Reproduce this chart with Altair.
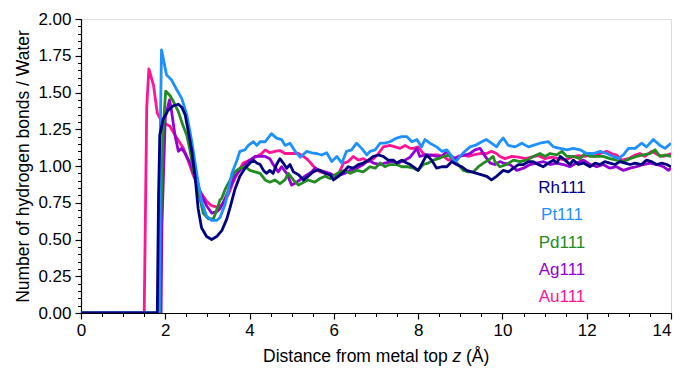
import altair as alt
import pandas as pd

# ---------------- data ----------------
series_names = ["Au111", "Ag111", "Pd111", "Pt111", "Rh111"]
series_colors = ["#ff1493", "#9400d3", "#228b22", "#1e90ff", "#000080"]

au_x = [0, 1.50, 1.56, 1.61, 1.72, 1.81, 1.90, 1.99, 2.11, 2.25, 2.43, 2.55, 2.66, 2.82, 2.98, 3.10, 3.22,
        3.30, 3.38, 3.50, 3.61, 3.73, 3.85, 4.01, 4.17, 4.29, 4.37, 4.48, 4.60, 4.72, 4.84, 5.00, 5.16, 5.28,
        5.39, 5.51, 5.67, 5.83, 5.95, 6.07, 6.15, 6.23, 6.34, 6.46, 6.58, 6.70, 6.82, 6.94, 7.06, 7.17, 7.33,
        7.45, 7.57, 7.69, 7.81, 7.89, 8.00, 8.12, 8.24, 8.36, 8.48, 8.60, 8.72, 8.84, 8.95, 9.07, 9.19, 9.31,
        9.47, 9.63, 9.74, 9.86, 9.94, 10.06, 10.22, 10.38, 10.54, 10.69, 10.85, 11.01, 11.17, 11.33, 11.49,
        11.64, 11.80, 11.96, 12.08, 12.16, 12.32, 12.47, 12.59, 12.71, 12.83, 12.99, 13.15, 13.26, 13.38, 13.54,
        13.70, 13.82, 14.00]
au_y = [0, 0, 1.40, 1.66, 1.55, 1.36, 1.31, 1.29, 1.27, 1.20, 1.12, 1.03, 0.94, 0.83, 0.76, 0.73, 0.72,
        0.73, 0.74, 0.81, 0.89, 0.96, 1.02, 1.04, 1.065, 1.085, 1.11, 1.09, 1.10, 1.105, 1.085, 1.085, 1.085, 1.065,
        1.04, 1.00, 0.96, 0.95, 0.94, 0.93, 0.97, 1.02, 1.03, 1.065, 1.04, 1.05, 1.03, 1.05, 1.085, 1.13, 1.14,
        1.13, 1.12, 1.14, 1.12, 1.12, 1.13, 1.085, 1.065, 1.075, 1.075, 1.065, 1.04, 1.05, 1.065, 1.075, 1.065, 1.075,
        1.085, 1.085, 1.10, 1.085, 1.065, 1.05, 1.065, 1.06, 1.05, 1.06, 1.07, 1.05, 1.06, 1.05, 1.04,
        1.06, 1.07, 1.065, 1.075, 1.065, 1.085, 1.10, 1.085, 1.075, 1.04, 1.05, 1.075, 1.085, 1.065, 1.10,
        1.075, 1.065, 1.085]

ag_x = [0, 1.90, 1.92, 2.00, 2.10, 2.15, 2.23, 2.31, 2.39, 2.47, 2.59, 2.71, 2.86, 2.98, 3.10, 3.22, 3.30,
        3.42, 3.54, 3.65, 3.77, 3.89, 4.01, 4.13, 4.25, 4.37, 4.48, 4.56, 4.68, 4.76, 4.88, 5.00, 5.12, 5.24,
        5.36, 5.47, 5.55, 5.67, 5.79, 5.91, 6.03, 6.15, 6.26, 6.38, 6.54, 6.70, 6.82, 6.94, 7.10, 7.21, 7.37,
        7.53, 7.69, 7.81, 7.97, 8.04, 8.16, 8.32, 8.44, 8.56, 8.68, 8.76, 8.87, 8.99, 9.11, 9.23, 9.35, 9.47,
        9.59, 9.71, 9.82, 9.94, 10.02, 10.18, 10.34, 10.50, 10.65, 10.81, 10.97, 11.13, 11.29, 11.45, 11.60,
        11.76, 11.92, 12.08, 12.24, 12.39, 12.55, 12.71, 12.87, 13.03, 13.18, 13.34, 13.50, 13.66, 13.82,
        13.94, 14.00]
ag_y = [0, 0, 0.60, 1.33, 1.45, 1.37, 1.21, 1.10, 1.12, 1.085, 1.02, 0.92, 0.80, 0.73, 0.68, 0.69, 0.71,
        0.78, 0.86, 0.93, 0.97, 1.01, 1.04, 1.065, 1.065, 1.065, 1.05, 1.01, 0.96, 0.995, 0.95, 0.87, 0.89, 0.915,
        0.94, 0.96, 0.985, 0.97, 0.96, 0.95, 0.93, 0.94, 0.95, 0.97, 0.985, 1.01, 1.04, 1.02, 1.01, 1.02, 1.03,
        1.02, 1.04, 1.06, 1.12, 1.065, 1.075, 1.075, 1.065, 1.065, 1.10, 1.075, 1.05, 1.065, 1.075, 1.085, 1.11, 1.12,
        1.065, 1.02, 1.01, 1.03, 1.02, 1.01, 0.97, 0.985, 1.01, 1.02, 1.03, 1.01, 1.02, 1.01, 0.995,
        1.02, 1.04, 1.01, 0.995, 1.01, 0.985, 0.995, 0.97, 0.985, 0.995, 1.01, 1.02, 1.01, 0.995,
        0.97, 0.985]

pd_x = [0, 1.87, 1.89, 1.95, 2.01, 2.11, 2.19, 2.31, 2.39, 2.51, 2.59, 2.66, 2.78, 2.90, 3.02, 3.14, 3.22,
        3.30, 3.34, 3.42, 3.54, 3.65, 3.77, 3.89, 4.01, 4.13, 4.25, 4.37, 4.48, 4.60, 4.72, 4.84, 4.92, 5.04,
        5.16, 5.28, 5.39, 5.55, 5.67, 5.79, 5.91, 6.03, 6.15, 6.26, 6.38, 6.54, 6.70, 6.86, 6.98, 7.10, 7.21,
        7.33, 7.49, 7.61, 7.73, 7.89, 8.00, 8.12, 8.24, 8.36, 8.48, 8.60, 8.72, 8.84, 8.95, 9.07, 9.19, 9.31,
        9.43, 9.55, 9.67, 9.78, 9.82, 9.94, 10.10, 10.26, 10.42, 10.58, 10.73, 10.89, 11.01, 11.13, 11.29,
        11.41, 11.53, 11.68, 11.84, 11.96, 12.08, 12.24, 12.39, 12.55, 12.71, 12.87, 13.03, 13.18, 13.34,
        13.50, 13.62, 13.74, 13.86, 14.00]
pd_y = [0, 0, 0.60, 1.25, 1.51, 1.48, 1.44, 1.37, 1.30, 1.21, 1.10, 0.98, 0.83, 0.68, 0.64, 0.64, 0.70,
        0.77, 0.78, 0.84, 0.905, 0.96, 0.985, 0.995, 0.97, 0.96, 0.95, 0.905, 0.89, 0.905, 0.88, 0.905, 0.95, 0.905,
        0.87, 0.89, 0.905, 0.89, 0.915, 0.93, 0.915, 0.94, 0.96, 0.97, 0.95, 0.97, 0.96, 0.995, 0.985, 1.02, 0.995,
        1.01, 1.01, 0.995, 0.995, 0.985, 0.97, 1.01, 1.02, 1.04, 1.05, 1.065, 1.075, 1.04, 1.01, 0.97, 0.96, 0.96,
        0.995, 1.02, 1.04, 1.065, 1.03, 0.995, 1.01, 1.04, 1.03, 1.04, 1.065, 1.085, 1.065, 1.085, 1.075,
        1.10, 1.065, 1.065, 1.05, 1.085, 1.065, 1.065, 1.065, 1.05, 1.04, 1.03, 1.05, 1.065, 1.075,
        1.085, 1.11, 1.065, 1.075, 1.065]

pt_x = [0, 1.86, 1.88, 1.91, 2.03, 2.15, 2.27, 2.39, 2.51, 2.63, 2.75, 2.86, 2.98, 3.10, 3.22, 3.30, 3.42,
        3.50, 3.58, 3.69, 3.77, 3.89, 3.97, 4.09, 4.17, 4.25, 4.37, 4.52, 4.64, 4.76, 4.84, 4.96, 5.08, 5.20,
        5.36, 5.47, 5.59, 5.71, 5.83, 5.95, 6.07, 6.19, 6.30, 6.42, 6.54, 6.66, 6.78, 6.86, 6.98, 7.10, 7.21,
        7.33, 7.49, 7.61, 7.73, 7.85, 7.97, 8.08, 8.16, 8.28, 8.44, 8.56, 8.68, 8.80, 8.87, 8.99, 9.11, 9.23,
        9.35, 9.51, 9.62, 9.74, 9.86, 9.94, 10.02, 10.14, 10.30, 10.46, 10.62, 10.73, 10.89, 11.09, 11.21,
        11.37, 11.53, 11.68, 11.84, 12.00, 12.16, 12.32, 12.47, 12.63, 12.75, 12.87, 12.99, 13.15, 13.30,
        13.42, 13.58, 13.74, 13.86, 14.00]
pt_y = [0, 0, 1.20, 1.79, 1.62, 1.585, 1.52, 1.46, 1.35, 1.165, 0.94, 0.76, 0.66, 0.63, 0.63, 0.65, 0.74,
        0.84, 0.95, 1.03, 1.10, 1.11, 1.14, 1.165, 1.14, 1.165, 1.165, 1.22, 1.19, 1.18, 1.14, 1.155, 1.10, 1.06,
        1.10, 1.09, 1.085, 1.075, 1.09, 1.03, 1.065, 1.02, 1.10, 1.11, 1.155, 1.12, 1.075, 1.10, 1.11, 1.155, 1.155,
        1.165, 1.19, 1.20, 1.20, 1.165, 1.18, 1.13, 1.18, 1.155, 1.13, 1.10, 1.11, 1.065, 1.02, 1.065, 1.10, 1.13,
        1.14, 1.165, 1.18, 1.155, 1.13, 1.165, 1.19, 1.14, 1.13, 1.155, 1.13, 1.14, 1.155, 1.165, 1.13,
        1.12, 1.11, 1.12, 1.11, 1.085, 1.085, 1.10, 1.085, 1.065, 1.05, 1.075, 1.12, 1.12, 1.155,
        1.13, 1.18, 1.14, 1.12, 1.155]

rh_x = [0, 1.81, 1.84, 1.87, 1.95, 2.07, 2.19, 2.31, 2.39, 2.47, 2.55, 2.63, 2.71, 2.78, 2.86, 2.98, 3.10,
        3.22, 3.34, 3.46, 3.54, 3.65, 3.77, 3.89, 4.01, 4.09, 4.17, 4.25, 4.33, 4.40, 4.48, 4.56, 4.64, 4.72,
        4.80, 4.88, 4.96, 5.04, 5.16, 5.28, 5.39, 5.51, 5.63, 5.79, 5.91, 5.99, 6.11, 6.23, 6.34, 6.46, 6.58,
        6.70, 6.82, 6.94, 7.06, 7.17, 7.29, 7.41, 7.49, 7.61, 7.73, 7.81, 7.93, 8.00, 8.08, 8.20, 8.32, 8.44,
        8.56, 8.68, 8.80, 8.91, 9.03, 9.15, 9.27, 9.39, 9.51, 9.63, 9.74, 9.86, 9.94, 10.02, 10.14, 10.26,
        10.38, 10.50, 10.62, 10.73, 10.85, 10.97, 11.09, 11.21, 11.29, 11.37, 11.49, 11.60, 11.68, 11.80,
        11.92, 12.08, 12.20, 12.32, 12.43, 12.55, 12.67, 12.79, 12.91, 13.03, 13.15, 13.30, 13.42, 13.54,
        13.66, 13.78, 13.90, 14.00]
rh_y = [0, 0, 0.80, 1.21, 1.32, 1.38, 1.41, 1.42, 1.40, 1.35, 1.23, 1.10, 0.92, 0.71, 0.58, 0.52, 0.50,
        0.52, 0.56, 0.64, 0.72, 0.84, 0.93, 0.985, 1.02, 1.04, 1.02, 1.01, 0.97, 0.95, 0.97, 0.95, 1.01, 1.05,
        1.02, 0.985, 1.01, 0.96, 0.94, 0.905, 0.93, 0.96, 0.975, 0.95, 0.94, 0.905, 0.93, 0.96, 0.995, 0.985, 1.01,
        1.02, 1.04, 1.065, 1.075, 1.065, 1.04, 1.04, 1.02, 1.04, 1.02, 1.01, 0.985, 0.97, 1.01, 1.075, 1.04, 0.985,
        0.995, 0.995, 1.03, 1.01, 0.995, 0.97, 0.96, 0.95, 0.94, 0.93, 0.905, 0.93, 0.95, 0.97, 0.96, 0.985,
        1.01, 1.01, 1.03, 1.03, 1.01, 0.995, 1.02, 1.04, 1.02, 1.065, 1.04, 1.01, 1.04, 1.01,
        1.02, 0.995, 1.02, 1.01, 1.03, 1.02, 1.01, 1.03, 1.02, 1.01, 1.02, 1.01, 1.04, 1.03,
        1.01, 1.02, 1.01, 0.995]

legend_labels = ["Rh111", "Pt111", "Pd111", "Ag111", "Au111"]
legend_colors = ["#000080", "#1e90ff", "#228b22", "#9400d3", "#ff1493"]

x_major = [0, 2, 4, 6, 8, 10, 12, 14]
x_minor = [v / 2 for v in range(0, 29)]
y_major = [0, 0.25, 0.5, 0.75, 1.0, 1.25, 1.5, 1.75, 2.0]
y_minor = [v / 20 for v in range(0, 41)]

# ---------------- chart ----------------
FONT = "Liberation Sans"
W, H = 590, 294

series_data = {
    "Au111": (au_x, au_y),
    "Ag111": (ag_x, ag_y),
    "Pd111": (pd_x, pd_y),
    "Pt111": (pt_x, pt_y),
    "Rh111": (rh_x, rh_y),
}

xscale = alt.Scale(domain=[0, 14], nice=False, zero=False)
yscale = alt.Scale(domain=[0, 2], nice=False, zero=False)

layers = []
first = True
for name, color in zip(series_names, series_colors):
    xs, ys = series_data[name]
    df = pd.DataFrame({"x": xs, "y": ys, "i": list(range(len(xs)))})
    if first:
        xax = alt.Axis(values=x_major, format="d", tickSize=6, tickWidth=1.2, tickColor="black",
                       domainColor="black", domainWidth=1.2, labelFontSize=17, labelFont=FONT,
                       labelColor="black", labelPadding=3, labelFlush=False, labelOverlap=False,
                       labelAlign={"expr": "datum.value == 14 ? 'right' : 'center'"},
                       grid=False, title=None, orient="bottom")
        yax = alt.Axis(values=y_major, format=".2f", tickSize=6, tickWidth=1.2, tickColor="black",
                       domainColor="black", domainWidth=1.2, labelFontSize=17, labelFont=FONT,
                       labelColor="black", labelPadding=4, labelFlush=False, labelOverlap=False,
                       grid=False,
                       title="Number of hydrogen bonds / Water", titleFontSize=17.5, titleFont=FONT,
                       titleFontWeight="normal", titleColor="black", titlePadding=5, orient="left")
        first = False
    else:
        xax = None
        yax = None
    enc_x = alt.X("x:Q", scale=xscale, axis=xax)
    enc_y = alt.Y("y:Q", scale=yscale, axis=yax)
    layers.append(
        alt.Chart(df).mark_line(color=color, strokeWidth=2.8, clip=True, strokeJoin="round")
        .encode(x=enc_x, y=enc_y, order="i:Q")
    )

# minor tick axes
minor_df = pd.DataFrame({"x": [0, 14], "y": [0, 2]})
minor = alt.Chart(minor_df).mark_point(opacity=0).encode(
    x=alt.X("x:Q", scale=xscale,
            axis=alt.Axis(values=x_minor, labels=False, tickSize=3.5, tickWidth=1, tickColor="black",
                          domain=False, grid=False, title=None, orient="bottom")),
    y=alt.Y("y:Q", scale=yscale,
            axis=alt.Axis(values=y_minor, labels=False, tickSize=3.5, tickWidth=1, tickColor="black",
                          domain=False, grid=False, title=None, orient="left")),
)

one = pd.DataFrame({"a": [0]})

# colour-coded labels
label_layers = []
for k, (lab, col) in enumerate(zip(legend_labels, legend_colors)):
    label_layers.append(
        alt.Chart(one).mark_text(font=FONT, fontSize=17, color=col, align="center", baseline="middle")
        .encode(x=alt.value(481), y=alt.value(169 + 27.3 * k), text=alt.value(lab))
    )

# x-axis title with italic z
title_y = 338
xt1 = alt.Chart(one).mark_text(font=FONT, fontSize=17.5, color="black", align="left", baseline="middle").encode(
    x=alt.value(182), y=alt.value(title_y), text=alt.value("Distance from metal top"))
xt2 = alt.Chart(one).mark_text(font=FONT, fontSize=17.5, fontStyle="italic", color="black", align="left",
                               baseline="middle").encode(
    x=alt.value(371.5), y=alt.value(title_y), text=alt.value("z"))
xt3 = alt.Chart(one).mark_text(font=FONT, fontSize=17.5, color="black", align="left", baseline="middle").encode(
    x=alt.value(385), y=alt.value(title_y), text=alt.value("(Å)"))

chart = alt.layer(*layers, minor, *label_layers, xt1, xt2, xt3).resolve_axis(
    x="independent", y="independent"
).properties(
    width=W, height=H,
    autosize=alt.AutoSizeParams(type="none"),
    padding={"left": 73, "top": 11, "right": 2, "bottom": 56},
).configure_view(stroke="black", strokeWidth=1.4).configure(background="white")

chart.save("out.html", embed_options={"renderer": "svg", "actions": False})
